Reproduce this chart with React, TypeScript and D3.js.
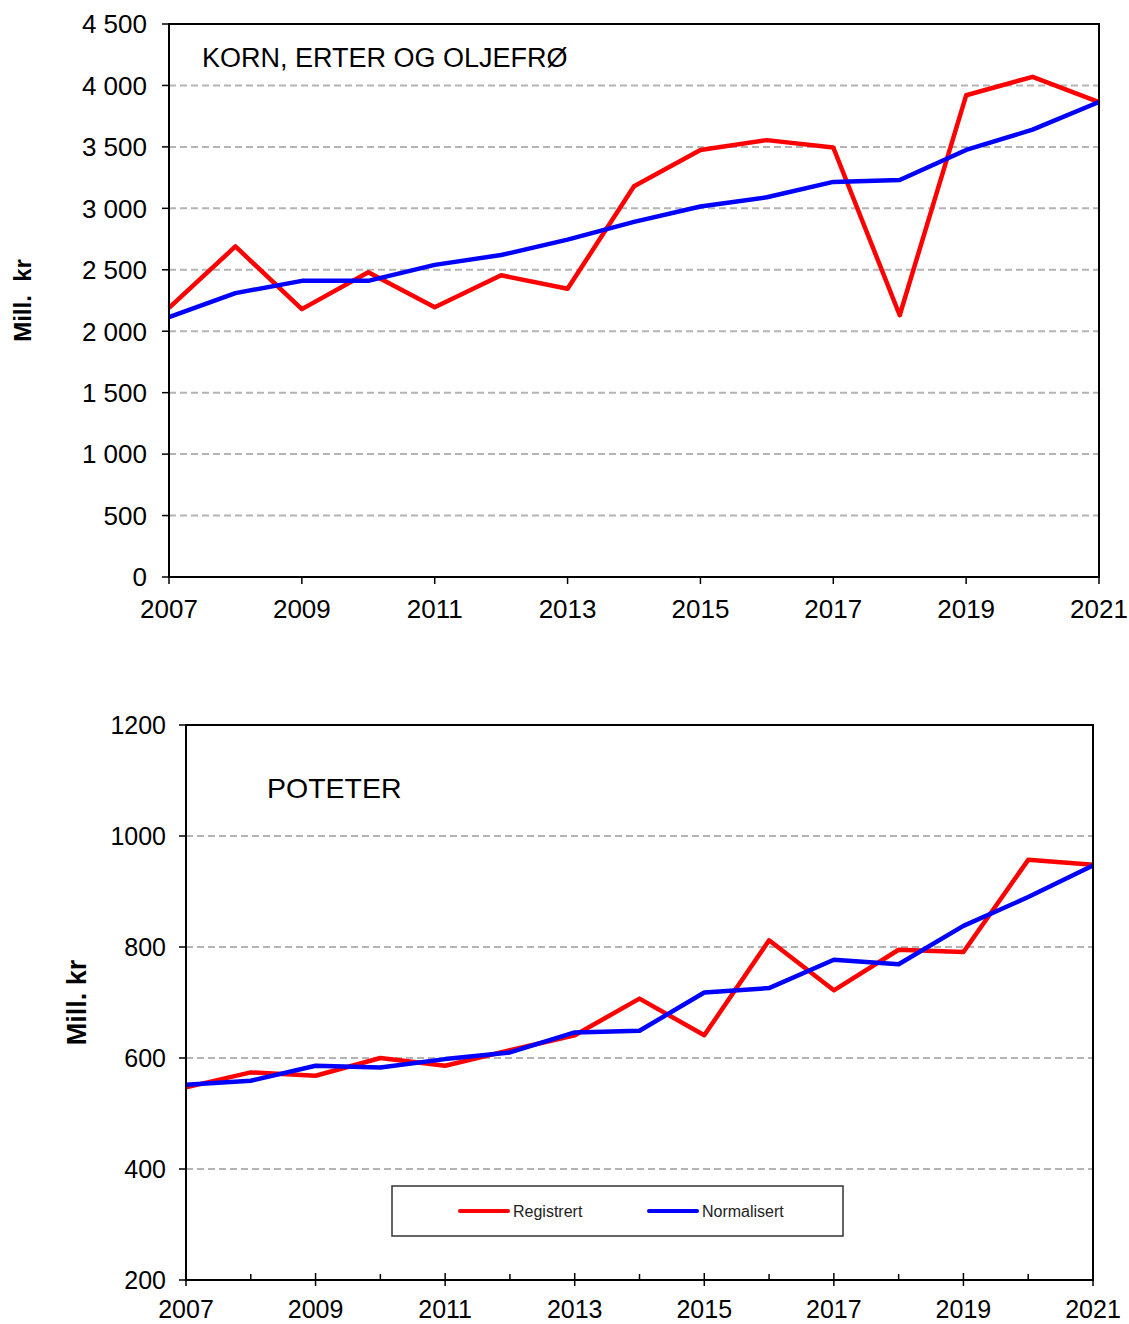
import React, { useEffect, useRef } from 'react';
import * as d3 from 'd3';

const years = [2007, 2008, 2009, 2010, 2011, 2012, 2013, 2014, 2015, 2016, 2017, 2018, 2019, 2020, 2021];
const kornRegistrert = [2190, 2690, 2180, 2480, 2195, 2455, 2345, 3180, 3475, 3555, 3495, 2130, 3920, 4070, 3865];
const kornNormalisert = [2115, 2310, 2410, 2410, 2540, 2620, 2745, 2890, 3015, 3090, 3215, 3230, 3475, 3640, 3865];
const poteterRegistrert = [547, 574, 568, 600, 586, 614, 641, 707, 641, 812, 722, 795, 791, 957, 948];
const poteterNormalisert = [552, 559, 586, 583, 598, 610, 646, 649, 718, 726, 777, 769, 838, 890, 947];
const kornTicks = [0, 500, 1000, 1500, 2000, 2500, 3000, 3500, 4000, 4500];
const poteterTicks = [200, 400, 600, 800, 1000, 1200];
const labelYears = [2007, 2009, 2011, 2013, 2015, 2017, 2019, 2021];
const legendItems = ["Registrert", "Normalisert"];

const FONT = "'Liberation Sans', Arial, sans-serif";
const RED = "#ff0000";
const BLUE = "#0000ff";
const GRID = "#b4b4b4";

const spaceFmt = d3.formatLocale({ decimal: ",", thousands: " ", grouping: [3], currency: ["", ""] }).format(",");

const App = () => {
    const ref = useRef(null);

    useEffect(() => {
        const svg = d3.select(ref.current);
        svg.selectAll("*").remove();
        svg.attr("width", 1129).attr("height", 1324);

        const drawPanel = (opts) => {
            const { left, right, top, bottom, yDomain, yTicks, yFmt, fontSize, tickLen, labelGap,
                series, title, titleX, titleY, titleSize, yTitle, yTitleX, yTitleSize, xBaseline, minorTicks } = opts;
            const g = svg.append("g");
            const x = d3.scaleLinear().domain([2007, 2021]).range([left, right]);
            const y = d3.scaleLinear().domain(yDomain).range([bottom, top]);

            // gridlines
            g.selectAll(".grid")
                .data(yTicks.filter(t => t !== yDomain[0] && t !== yDomain[1]))
                .enter().append("line")
                .attr("x1", left).attr("x2", right)
                .attr("y1", d => y(d)).attr("y2", d => y(d))
                .attr("stroke", GRID)
                .attr("stroke-width", 2)
                .attr("stroke-dasharray", "7,4");

            // series
            const line = d3.line()
                .x((d, i) => x(years[i]))
                .y(d => y(d));
            series.forEach(s => {
                g.append("path")
                    .datum(s.values)
                    .attr("d", line)
                    .attr("fill", "none")
                    .attr("stroke", s.color)
                    .attr("stroke-width", 4.5)
                    .attr("stroke-linejoin", "round");
            });

            // frame
            g.append("rect")
                .attr("x", left).attr("y", top)
                .attr("width", right - left).attr("height", bottom - top)
                .attr("fill", "none")
                .attr("stroke", "#000")
                .attr("stroke-width", 2);

            // y ticks
            g.selectAll(".ytick")
                .data(yTicks)
                .enter().append("line")
                .attr("x1", left - tickLen).attr("x2", left)
                .attr("y1", d => y(d)).attr("y2", d => y(d))
                .attr("stroke", "#000").attr("stroke-width", 1.5);
            g.selectAll(".ylab")
                .data(yTicks)
                .enter().append("text")
                .attr("x", left - labelGap)
                .attr("y", d => y(d))
                .attr("dy", "0.36em")
                .attr("text-anchor", "end")
                .attr("font-family", FONT)
                .attr("font-size", fontSize)
                .attr("fill", "#000")
                .text(d => yFmt(d));

            // x ticks
            const xTicks = minorTicks ? years : labelYears;
            g.selectAll(".xtick")
                .data(xTicks)
                .enter().append("line")
                .attr("x1", d => x(d)).attr("x2", d => x(d))
                .attr("y1", d => minorTicks ? (labelYears.includes(d) ? bottom - 7 : bottom - 6) : bottom)
                .attr("y2", d => minorTicks ? (labelYears.includes(d) ? bottom + 6 : bottom) : bottom + 7)
                .attr("stroke", "#000").attr("stroke-width", 1.5);
            g.selectAll(".xlab")
                .data(labelYears)
                .enter().append("text")
                .attr("x", d => x(d))
                .attr("y", xBaseline)
                .attr("text-anchor", "middle")
                .attr("font-family", FONT)
                .attr("font-size", fontSize)
                .attr("fill", "#000")
                .text(d => d);

            // title
            g.append("text")
                .attr("x", titleX).attr("y", titleY)
                .attr("font-family", FONT)
                .attr("font-size", titleSize)
                .attr("fill", "#000")
                .text(title);

            // y axis title
            g.append("text")
                .attr("transform", `translate(${yTitleX},${(top + bottom) / 2}) rotate(-90)`)
                .attr("text-anchor", "middle")
                .attr("font-family", FONT)
                .attr("font-weight", "bold")
                .attr("font-size", yTitleSize)
                .attr("fill", "#000")
                .style("white-space", "pre")
                .text(yTitle);

            return { g, x, y };
        };

        drawPanel({
            left: 169, right: 1099, top: 24, bottom: 577,
            yDomain: [0, 4500], yTicks: kornTicks, yFmt: spaceFmt,
            fontSize: 26, tickLen: 7, labelGap: 22,
            series: [{ values: kornRegistrert, color: RED }, { values: kornNormalisert, color: BLUE }],
            title: "KORN, ERTER OG OLJEFRØ", titleX: 202, titleY: 67, titleSize: 27,
            yTitle: "Mill.  kr", yTitleX: 31, yTitleSize: 24, xBaseline: 618, minorTicks: false
        });

        const bottomPanel = drawPanel({
            left: 186, right: 1093, top: 725, bottom: 1280,
            yDomain: [200, 1200], yTicks: poteterTicks, yFmt: d => String(d),
            fontSize: 25, tickLen: 7, labelGap: 20,
            series: [{ values: poteterRegistrert, color: RED }, { values: poteterNormalisert, color: BLUE }],
            title: "POTETER", titleX: 267, titleY: 798, titleSize: 28.5,
            yTitle: "Mill. kr", yTitleX: 86, yTitleSize: 27, xBaseline: 1318, minorTicks: true
        });

        // legend
        const lg = bottomPanel.g.append("g");
        lg.append("rect")
            .attr("x", 392).attr("y", 1186)
            .attr("width", 451).attr("height", 50)
            .attr("fill", "#fff")
            .attr("stroke", "#333")
            .attr("stroke-width", 1.5);
        const legendColors = [RED, BLUE];
        const legendX = [460, 649];
        legendItems.forEach((name, i) => {
            lg.append("line")
                .attr("x1", legendX[i]).attr("x2", legendX[i] + 48)
                .attr("y1", 1211).attr("y2", 1211)
                .attr("stroke", legendColors[i])
                .attr("stroke-width", 4)
                .attr("stroke-linecap", "round");
            lg.append("text")
                .attr("x", legendX[i] + 53).attr("y", 1211)
                .attr("dy", "0.36em")
                .attr("font-family", FONT)
                .attr("font-size", 16)
                .attr("fill", "#222")
                .text(name);
        });
    }, []);

    return <svg ref={ref} style={{ position: 'absolute', left: 0, top: 0, display: 'block', background: '#fff' }} />;
};

export default App;
